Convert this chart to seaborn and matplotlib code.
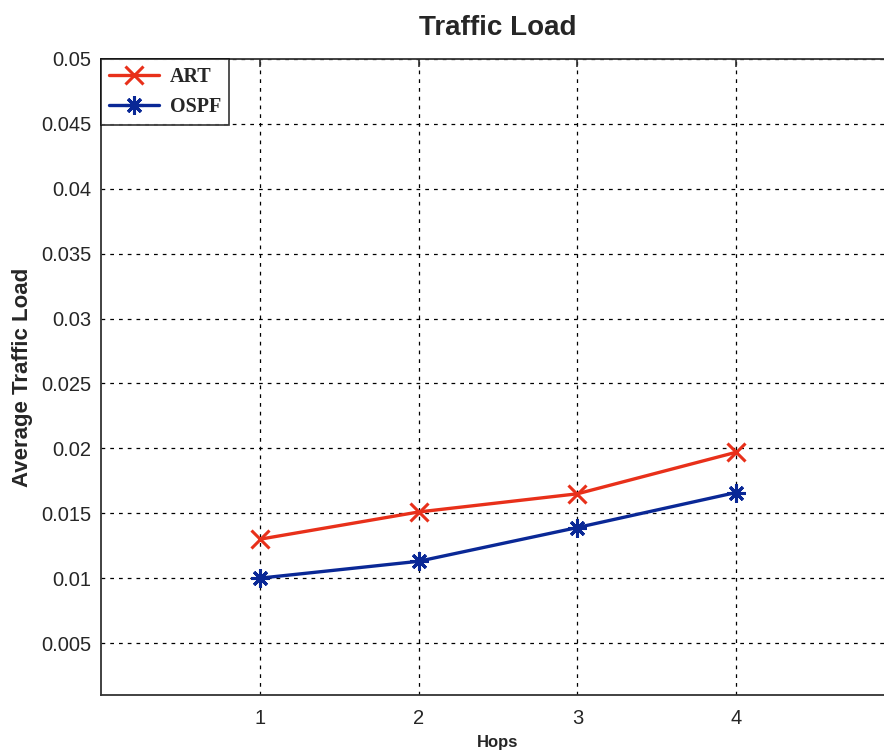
import matplotlib
matplotlib.use("Agg")
import matplotlib.pyplot as plt
import seaborn as sns
import pandas as pd

hops = [1, 2, 3, 4]
art = [0.0130, 0.0151, 0.0165, 0.0197]
ospf = [0.0100, 0.0113, 0.0139, 0.0166]
series_names = ["ART", "OSPF"]
yticks = [0.005, 0.01, 0.015, 0.02, 0.025, 0.03, 0.035, 0.04, 0.045, 0.05]
ytick_labels = ["0.005", "0.01", "0.015", "0.02", "0.025", "0.03", "0.035", "0.04", "0.045", "0.05"]

df = pd.DataFrame({
    "Hops": hops * 2,
    "Load": art + ospf,
    "Series": [series_names[0]] * len(hops) + [series_names[1]] * len(hops),
})

sns.set_style("white")
plt.rcParams["font.family"] = ["Liberation Sans", "DejaVu Sans"]

fig = plt.figure(figsize=(8.84, 7.56), dpi=100)
ax = fig.add_axes([0.1143, 0.0807, 0.898, 0.8413])

palette = {"ART": "#e8301a", "OSPF": "#0a2896"}
markers = {"ART": "x", "OSPF": (8, 2, 0)}
sns.lineplot(data=df, x="Hops", y="Load", hue="Series", style="Series",
             palette=palette, markers=markers, dashes=False, ax=ax,
             linewidth=2.4, markersize=13, markeredgewidth=2.2, legend=False)

for line in ax.lines:
    line.set_markeredgecolor(line.get_color())
    line.set_markerfacecolor(line.get_color())

ax.set_xlim(0, 5)
ax.set_ylim(0.001, 0.05)
ax.set_xticks(hops)
ax.set_xticklabels([str(h) for h in hops])
ax.set_yticks(yticks)
ax.set_yticklabels(ytick_labels)
ax.tick_params(axis="both", which="both", direction="in", length=6, width=1.2,
               top=True, right=True, labelsize=14.5, color="#333333")
ax.tick_params(axis="x", pad=10)
ax.tick_params(axis="y", pad=7)
ax.grid(True, color="black", linestyle=(0, (3, 4)), linewidth=0.9)
for s in ax.spines.values():
    s.set_color("#333333")
    s.set_linewidth(1.3)

ax.set_title("Traffic Load", fontsize=20, fontweight="bold", pad=17)
ax.set_xlabel("Hops", fontsize=12, fontweight="bold", labelpad=5)
ax.set_ylabel("Average Traffic Load", fontsize=16, fontweight="bold", labelpad=6)

leg = ax.legend(ax.lines, series_names, loc="upper left", frameon=True, fancybox=False,
                borderaxespad=0, handlelength=2.5, borderpad=0.4, labelspacing=0.5,
                handletextpad=0.5,
                prop={"family": "Liberation Serif", "weight": "bold", "size": 14.5})
leg.get_frame().set_edgecolor("black")
leg.get_frame().set_linewidth(1.2)

fig.savefig("out.png", dpi=100)
